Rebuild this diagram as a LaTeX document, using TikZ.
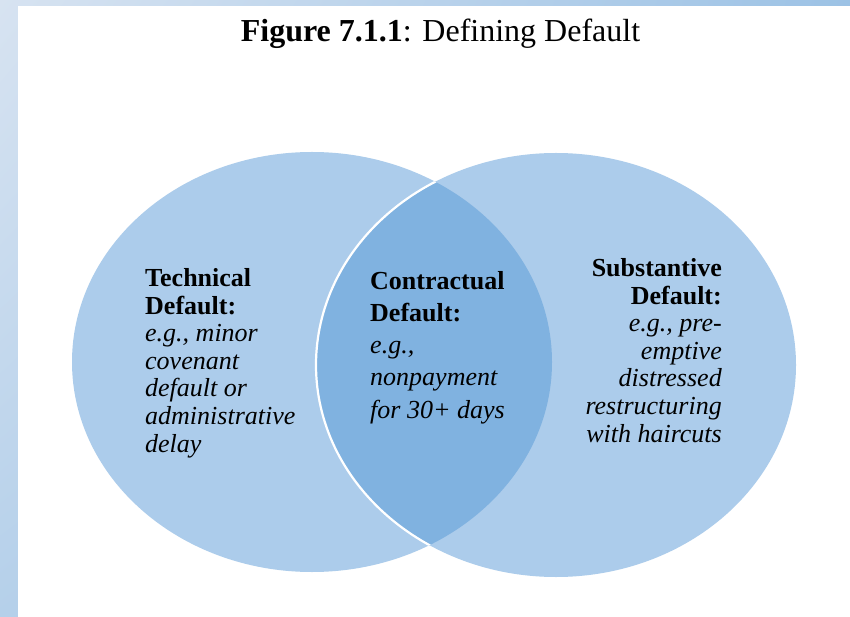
\documentclass[tikz,border=0pt]{standalone}
\usepackage{fontspec}
\usetikzlibrary{shadings}
\setmainfont{Liberation Serif}
\definecolor{lightc}{RGB}{172,204,235}
\definecolor{lensc}{RGB}{128,178,224}
\definecolor{frameA}{RGB}{215,227,241}
\definecolor{frameB}{RGB}{156,194,229}
\definecolor{frameC}{RGB}{181,208,234}
\definecolor{frameD}{RGB}{150,190,228}
\tikzset{
  bodytext/.style={inner sep=0pt, font=\fontsize{26}{27.6}\selectfont},
  midtext/.style={inner sep=0pt, font=\fontsize{26}{32.2}\selectfont}
}
\begin{document}
\begin{tikzpicture}[x=1pt,y=1pt]
\useasboundingbox (0,0) rectangle (850,616);
% frame
\shade[upper left=frameA, upper right=frameB, lower left=frameC, lower right=frameD] (0,0) rectangle (850,616);
\fill[white] (18,-1) rectangle (851,610);
% title
\node[inner sep=0pt, anchor=base, font=\fontsize{32}{36}\selectfont] (title) at (440.5,574) {\textbf{Figure 7.1.1}: Defining Default};
% circles
\fill[lightc] (312,254) ellipse [x radius=240, y radius=210];
\fill[lightc] (556,251) ellipse [x radius=240, y radius=212];
\begin{scope}
  \clip (312,254) ellipse [x radius=240, y radius=210];
  \fill[lensc] (556,251) ellipse [x radius=240, y radius=212];
  \draw[white, line width=2.2pt] (556,251) ellipse [x radius=240, y radius=212];
\end{scope}
% texts (anchor base = baseline of the last line)
\node[bodytext, anchor=base west, align=left] (tech) at (145,164)
  {\textbf{Technical}\\\textbf{Default:}\\\textit{e.g., minor}\\\textit{covenant}\\\textit{default or}\\\textit{administrative}\\\textit{delay}};
\node[midtext, anchor=base west, align=left] (contr) at (370,198)
  {\textbf{Contractual}\\\textbf{Default:}\\\textit{e.g.,}\\\textit{nonpayment}\\\textit{for 30+ days}};
\node[bodytext, anchor=base east, align=right] (subst) at (722,174)
  {\textbf{Substantive}\\\textbf{Default:}\\\textit{e.g., pre-}\\\textit{emptive}\\\textit{distressed}\\\textit{restructuring}\\\textit{with haircuts}};
\end{tikzpicture}
\end{document}
